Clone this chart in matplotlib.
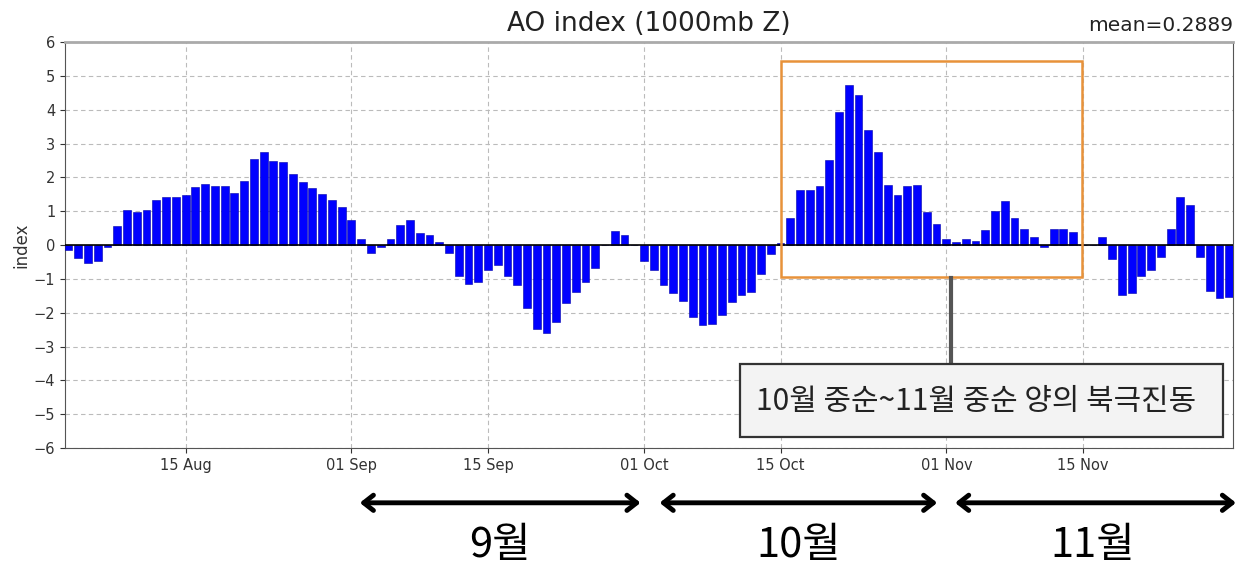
import datetime as dt
import numpy as np
import matplotlib
matplotlib.use("Agg")
import matplotlib.pyplot as plt
import matplotlib.dates as mdates
from matplotlib.patches import Rectangle

# daily AO index, 3 Aug .. 30 Nov
start_day = dt.date(2023, 8, 3)
ao_aug = [-0.15, -0.37, -0.53, -0.46, -0.05, 0.57, 1.04, 0.97, 1.04, 1.33, 1.41, 1.43, 1.48, 1.71,
          1.81, 1.76, 1.76, 1.53, 1.91, 2.55, 2.74, 2.48, 2.45, 2.09, 1.88, 1.70, 1.51, 1.33, 1.14]
ao_sep = [0.75, 0.18, -0.24, -0.05, 0.18, 0.58, 0.75, 0.37, 0.30, 0.08, -0.24, -0.92, -1.14, -1.09,
          -0.75, -0.59, -0.92, -1.19, -1.85, -2.48, -2.61, -2.26, -1.70, -1.39, -1.09, -0.69, 0.0,
          0.42, 0.30, 0.0]
ao_oct = [-0.47, -0.75, -1.19, -1.41, -1.64, -2.13, -2.36, -2.33, -2.06, -1.68, -1.48, -1.39, -0.85,
          -0.26, 0.05, 0.80, 1.63, 1.63, 1.75, 2.53, 3.93, 4.73, 4.45, 3.39, 2.74, 1.79, 1.48, 1.75,
          1.79, 0.97, 0.62]
ao_nov = [0.18, 0.10, 0.18, 0.13, 0.46, 1.02, 1.30, 0.80, 0.48, 0.24, -0.07, 0.48, 0.48, 0.39, 0.0,
          0.0, 0.23, -0.41, -1.48, -1.43, -0.92, -0.75, -0.34, 0.47, 1.43, 1.19, -0.35, -1.36,
          -1.55, -1.52]
ao = ao_aug + ao_sep + ao_oct + ao_nov
days = [start_day + dt.timedelta(days=i) for i in range(len(ao))]

month_labels = ["9월", "10월", "11월"]
note_text = "10월 중순~11월 중순 양의 북극진동"

plt.rcParams['font.family'] = ['DejaVu Sans']
kr_font = ['Noto Sans CJK KR', 'DejaVu Sans']

fig = plt.figure(figsize=(12.42, 5.70), dpi=100)
ax = fig.add_axes([0.0523, 0.214, 0.9405, 0.712])

x = mdates.date2num(days)
ax.bar(x, ao, width=0.8, color="blue", edgecolor="#0000aa", linewidth=0.4, zorder=3)
ax.axhline(0, color="black", lw=1.2, zorder=4)

def d(y, m, day):
    return mdates.date2num(dt.date(y, m, day))

ax.set_xlim(d(2023, 8, 15) - 12.37, d(2023, 11, 15) + 15.4)
ax.set_ylim(-6, 6)
ax.set_yticks(range(-6, 7))
ticks = [d(2023, 8, 15), d(2023, 9, 1), d(2023, 9, 15), d(2023, 10, 1), d(2023, 10, 15),
         d(2023, 11, 1), d(2023, 11, 15)]
ax.set_xticks(ticks)
ax.xaxis.set_major_formatter(mdates.DateFormatter("%d %b"))
ax.tick_params(axis="both", labelsize=10.5, colors="#333333")
ax.grid(True, linestyle=(0, (4, 3)), color="#bbbbbb", lw=0.8, zorder=0)
for s in ["left", "bottom", "right"]:
    ax.spines[s].set_color("#555555")
ax.spines["top"].set_color("#aaaaaa")
ax.spines["top"].set_linewidth(2)

ax.set_ylabel("index", fontsize=12, color="#333333", labelpad=2)
ax.set_title("AO index (1000mb Z)", fontsize=19, color="#222222", pad=8)
ax.set_title("mean=0.2889", loc="right", fontsize=14.5, color="#222222", pad=8)

# highlighted period
x0 = d(2023, 10, 15)
ax.add_patch(Rectangle((x0, -0.95), d(2023, 11, 14) + 0.9 - x0, 6.39, fill=False,
                       edgecolor="#e8923a", lw=1.8, zorder=5))
ax.plot([d(2023, 11, 1) + 0.5] * 2, [-0.98, -3.52], color="#555555", lw=3, zorder=5)
bx0 = d(2023, 10, 10) + 0.8
ax.add_patch(Rectangle((bx0, -5.68), d(2023, 11, 29) + 0.4 - bx0, 2.16, facecolor="#f3f3f3",
                       edgecolor="#333333", lw=1.6, zorder=6))
ax.text(d(2023, 11, 4) + 0.1, -4.61, note_text, ha="center", va="center", fontsize=21.5,
        family=kr_font, color="#222222", zorder=7)

# month arrows below the axis
arrow_spans = [(d(2023, 9, 1) + 0.86, d(2023, 9, 30) + 0.65),
               (d(2023, 10, 2) + 0.6, d(2023, 10, 31) + 0.07),
               (d(2023, 11, 1) + 0.9, d(2023, 11, 30) + 0.7)]
label_pos = [d(2023, 9, 16) + 0.2, d(2023, 10, 16) + 0.9, d(2023, 11, 16)]
for (a, b), lx, lab in zip(arrow_spans, label_pos, month_labels):
    ax.annotate("", xy=(b, -0.135), xytext=(a, -0.135),
                xycoords=("data", "axes fraction"), textcoords=("data", "axes fraction"),
                annotation_clip=False,
                arrowprops=dict(arrowstyle="<->,head_length=0.7,head_width=0.55",
                                lw=3.5, color="black", shrinkA=0, shrinkB=0))
    ax.text(lx, -0.24, lab, transform=ax.get_xaxis_transform(), ha="center", va="center",
            fontsize=30, family=kr_font, color="black", clip_on=False)

fig.savefig("out.png", dpi=100)
